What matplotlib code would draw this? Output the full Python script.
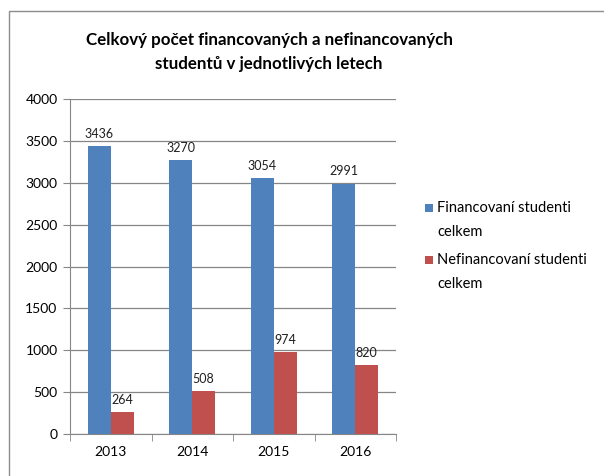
import matplotlib
matplotlib.use("Agg")
import matplotlib.pyplot as plt
import numpy as np
from matplotlib.patches import Rectangle

years = ["2013", "2014", "2015", "2016"]
financovani = [3436, 3270, 3054, 2991]
nefinancovani = [264, 508, 974, 820]
series_names = ["Financovaní studenti\ncelkem", "Nefinancovaní studenti\ncelkem"]
title = "Celkový počet financovaných a nefinancovaných\nstudentů v jednotlivých letech"

plt.rcParams['font.family'] = ['Lato', 'DejaVu Sans']

W, H = 604, 476
fig = plt.figure(figsize=(W / 100, H / 100), dpi=100)
fig.patch.set_facecolor('white')

# outer chart border (cropped at right/bottom)
fig.patches.append(Rectangle((9 / W, -0.1), 1.2, (H - 11) / H + 0.1, transform=fig.transFigure,
                             fill=False, edgecolor='#8c8c8c', linewidth=1.0))

ax = fig.add_axes([70 / W, (H - 434) / H, (396 - 70) / W, (434 - 99) / H])
x = np.arange(len(years))
bw = 0.28
c_blue = '#4F81BD'
c_red = '#C0504D'
b1 = ax.bar(x - bw / 2, financovani, bw, color=c_blue, label=series_names[0], zorder=3)
b2 = ax.bar(x + bw / 2, nefinancovani, bw, color=c_red, label=series_names[1], zorder=3)

for bars, vals in ((b1, financovani), (b2, nefinancovani)):
    for r, v in zip(bars, vals):
        ax.text(r.get_x() + r.get_width() / 2, v + 75, str(v), ha='center', va='bottom',
                fontsize=9, color='#202020')

ax.set_xlim(-0.5, len(years) - 0.5)
ax.set_ylim(0, 4000)
ax.set_yticks(np.arange(0, 4001, 500))
ax.set_xticks(x)
ax.set_xticklabels(years)
ax.set_xticks(np.arange(-0.5, len(years), 1), minor=True)
ax.tick_params(axis='x', which='major', length=0, pad=9, labelsize=10)
ax.tick_params(axis='x', which='minor', length=5, color='#868686', direction='out')
ax.tick_params(axis='y', length=5, color='#868686', direction='out', labelsize=10, pad=4)
ax.yaxis.grid(True, color='#868686', linewidth=0.9, zorder=0)
ax.set_axisbelow(True)
for s in ['top', 'right']:
    ax.spines[s].set_visible(False)
for s in ['left', 'bottom']:
    ax.spines[s].set_color('#868686')

fig.text(269 / W, 1 - 52 / H, title, ha='center', va='center', fontsize=12.2,
         fontweight='bold', linespacing=1.55)

# legend drawn manually: square aligned with first text line
sq = 8
for i, (name, col) in enumerate(zip(series_names, (c_blue, c_red))):
    ycen = 208 + i * 52
    fig.patches.append(Rectangle((425 / W, 1 - (ycen + sq / 2) / H), sq / W, sq / H,
                                 transform=fig.transFigure, facecolor=col, edgecolor='none'))
    first, second = name.split("\n")
    fig.text(437 / W, 1 - ycen / H, first, ha='left', va='center', fontsize=10.5)
    fig.text(437 / W, 1 - (ycen + 24) / H, second, ha='left', va='center', fontsize=10.5)

fig.savefig("out.png", dpi=100)
